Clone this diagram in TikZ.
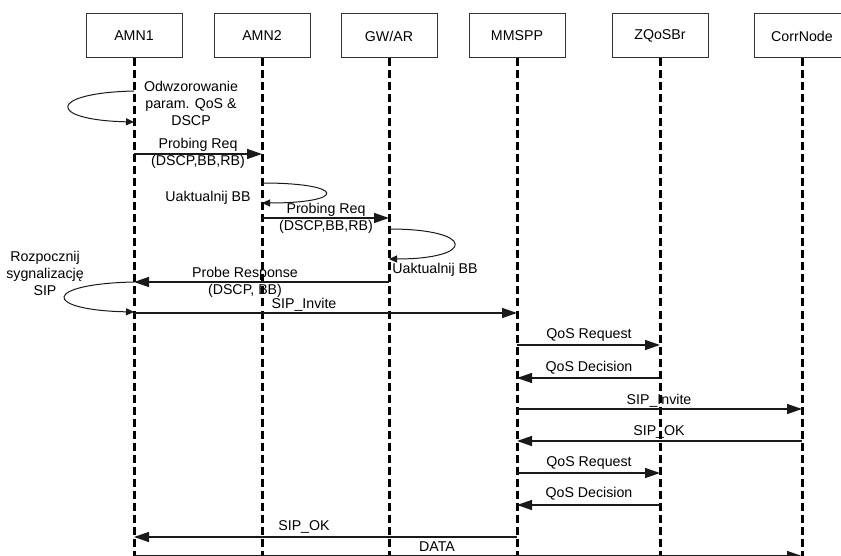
\documentclass[tikz,border=0pt]{standalone}
\usepackage{fontspec}
\setmainfont{Liberation Sans}
\usetikzlibrary{arrows.meta}
\begin{document}
\begin{tikzpicture}[x=1pt,y=-1pt,
  font=\fontsize{14.2}{17}\selectfont,
  actor/.style={draw=black!80,line width=1pt,minimum width=96pt,minimum height=44pt,inner sep=0pt},
  lifeline/.style={line width=3pt,dash pattern=on 8pt off 4pt},
  msg/.style={line width=1.4pt,draw=black!90,-{Triangle[length=15pt,width=10pt]}},
  selfmsg/.style={line width=1pt,draw=black!90,-{Triangle[length=8pt,width=7pt]}},
  lbl/.style={inner sep=0pt,align=center}]
\useasboundingbox (0,0) rectangle (841,556);
% actors
\node[actor] (a1) at (134,36) {AMN1};
\node[actor] (a2) at (262,36) {AMN2};
\node[actor] (gw) at (389,36) {GW/AR};
\node[actor] (mm) at (517,36) {MMSPP};
\node[actor] (zq) at (660,36) {ZQoSBr};
\node[actor] (cn) at (802,36) {CorrNode};
% lifelines
\foreach \n in {a1,a2,gw,mm,zq,cn}{
  \draw[lifeline] (\n.south) -- (\n.south |- 0,560);
}
% self loop 1
\draw[selfmsg] (a1 |- 0,91) .. controls (47,93) and (47,120) .. (a1 |- 0,122);
\node[lbl] (t1) at (191,103) {Odwzorowanie\\param. QoS \&\\DSCP};
% probing req 1
\draw[msg] (a1 |- 0,154) -- (a2 |- 0,154);
\node[lbl] (t2) at (198,153.5) {Probing Req\\(DSCP,BB,RB)};
% self loop 2
\draw[selfmsg] (a2 |- 0,183) .. controls (347,183) and (347,203) .. (a2 |- 0,203);
\node[lbl] (t3) at (208,198) {Uaktualnij BB};
% probing req 2
\draw[msg] (a2 |- 0,218) -- (gw |- 0,218);
\node[lbl] (t4) at (326,218) {Probing Req\\(DSCP,BB,RB)};
% self loop 3
\draw[selfmsg] (gw |- 0,229) .. controls (476,229) and (476,259) .. (gw |- 0,259);
\node[lbl] (t5) at (435,270) {Uaktualnij BB};
% probe response
\draw[msg] (gw |- 0,282) -- (a1 |- 0,282);
\node[lbl] (t6) at (245,282.5) {Probe Response\\(DSCP, BB)};
% self loop 4
\draw[selfmsg] (a1 |- 0,282) .. controls (42,284) and (42,310) .. (a1 |- 0,312);
\node[lbl] (t7) at (45,273) {Rozpocznij\\sygnalizację\\SIP};
% sip invite 1
\draw[msg] (a1 |- 0,313) -- (mm |- 0,313);
\node[lbl] (t8) at (304,305) {SIP\_Invite};
% qos request / decision
\draw[msg] (mm |- 0,345) -- (zq |- 0,345);
\node[lbl] (t9) at (589,335) {QoS Request};
\draw[msg] (zq |- 0,378) -- (mm |- 0,378);
\node[lbl] (t10) at (589,368) {QoS Decision};
% sip invite 2
\draw[msg] (mm |- 0,409) -- (cn |- 0,409);
\node[lbl] (t11) at (659,401) {SIP\_Invite};
% sip ok 1
\draw[msg] (cn |- 0,441) -- (mm |- 0,441);
\node[lbl] (t12) at (659,432) {SIP\_OK};
% qos request / decision 2
\draw[msg] (mm |- 0,473) -- (zq |- 0,473);
\node[lbl] (t13) at (589,463) {QoS Request};
\draw[msg] (zq |- 0,505) -- (mm |- 0,505);
\node[lbl] (t14) at (589,494) {QoS Decision};
% sip ok 2
\draw[msg] (mm |- 0,537) -- (a1 |- 0,537);
\node[lbl] (t15) at (304,527) {SIP\_OK};
% data
\draw[msg] (a1 |- 0,556) -- (cn |- 0,556);
\node[lbl] (t16) at (437,547) {DATA};
\end{tikzpicture}
\end{document}
